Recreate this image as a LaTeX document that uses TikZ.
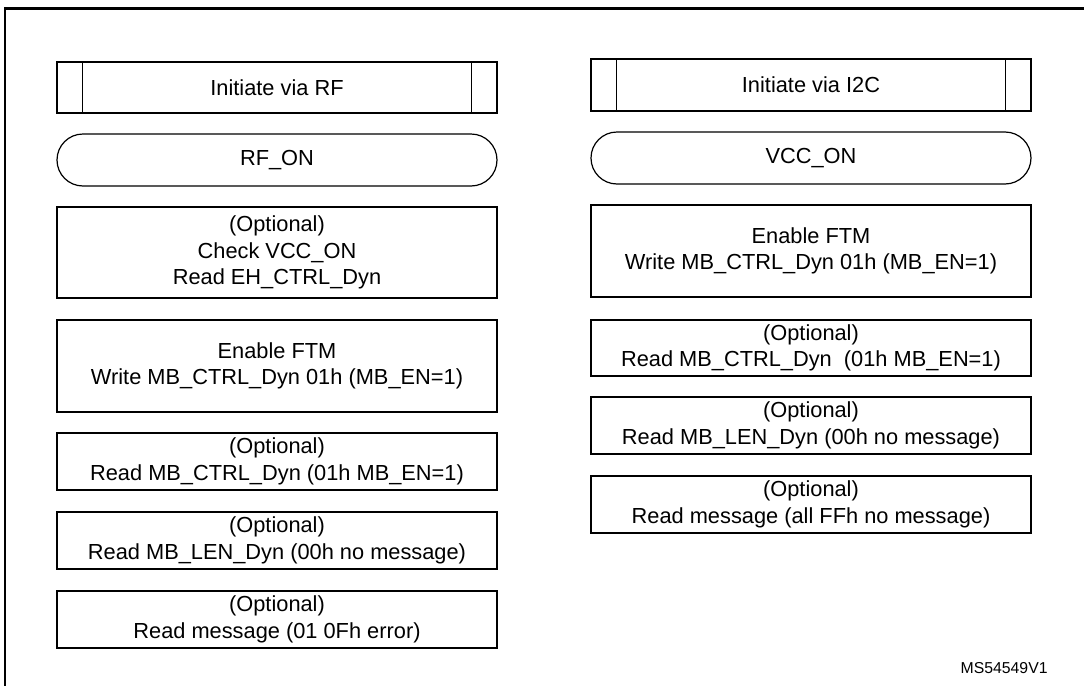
\documentclass[tikz,border=0pt]{standalone}
\usepackage{fontspec}
\setmainfont{Liberation Sans}
\usetikzlibrary{positioning}

\tikzset{
  stepbox/.style={draw, line width=0.6pt, minimum width=220pt, inner sep=0pt,
    align=center, font=\fontsize{10.9}{13.2}\selectfont},
  termbox/.style={stepbox, rounded corners=13pt},
  sidebar/.style={line width=0.6pt},
}

\begin{document}
\begin{tikzpicture}[x=0.5pt, y=-0.5pt]
\clip (0,0) rectangle (1084,686);
% outer frame, open to the right and bottom
\draw[line width=1.1pt] (5,700) -- (5,8.5) -- (1100,8.5);

% start blocks
\node[stepbox, minimum height=25.5pt] (initrf) at (277,87.5) {Initiate via RF};
\node[stepbox, minimum height=26pt] (initi2c) at (811,85) {Initiate via I2C};
\foreach \blk in {initrf, initi2c}
{
  \draw[sidebar] ([xshift=13pt]\blk.north west) -- ([xshift=13pt]\blk.south west);
  \draw[sidebar] ([xshift=-13pt]\blk.north east) -- ([xshift=-13pt]\blk.south east);
}

% power state
\node[termbox, minimum height=26pt] (rfon) at (277,160) {RF\_ON};
\node[termbox, minimum height=26pt] (vccon) at (811,158) {VCC\_ON};

% RF side
\foreach \name/\xc/\yc/\bh/\txt in {
  chkvcc/277/252.5/91/{(Optional)\\Check VCC\_ON\\Read EH\_CTRL\_Dyn},
  enftmrf/277/366/92/{Enable FTM\\Write MB\_CTRL\_Dyn 01h (MB\_EN=1)},
  rdctrlrf/277/461.5/57/{(Optional)\\Read MB\_CTRL\_Dyn (01h MB\_EN=1)},
  rdlenrf/277/540.5/57/{(Optional)\\Read MB\_LEN\_Dyn (00h no message)},
  rdmsgrf/277/619.5/57/{(Optional)\\Read message (01 0Fh error)}}
  \node[stepbox, minimum height=\bh*0.5pt] (\name) at (\xc,\yc) {\txt};

% I2C side
\foreach \name/\xc/\yc/\bh/\txt in {
  enftmi2c/811/251/92/{Enable FTM\\Write MB\_CTRL\_Dyn 01h (MB\_EN=1)},
  rdctrli2c/811/348/56/{(Optional)\\Read MB\_CTRL\_Dyn\ \ (01h MB\_EN=1)},
  rdleni2c/811/425.5/57/{(Optional)\\Read MB\_LEN\_Dyn (00h no message)},
  rdmsgi2c/811/504.5/57/{(Optional)\\Read message (all FFh no message)}}
  \node[stepbox, minimum height=\bh*0.5pt] (\name) at (\xc,\yc) {\txt};

\node[anchor=base east, inner sep=0pt, font=\fontsize{7.9}{9}\selectfont] (figid) at (1048,673) {MS54549V1};
\end{tikzpicture}
\end{document}
